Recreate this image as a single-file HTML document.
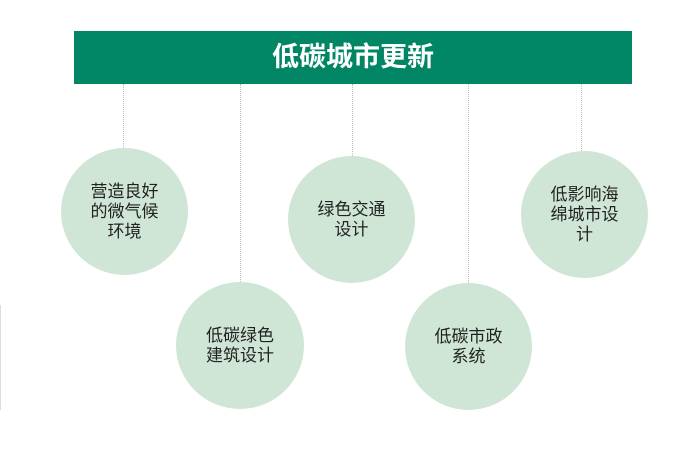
<!DOCTYPE html>
<html><head><meta charset="utf-8"><style>
body{margin:0;width:700px;height:471px;background:#fff;position:relative;overflow:hidden;font-family:"Liberation Sans","Noto Sans CJK SC",sans-serif}
.ban{position:absolute;left:74px;top:31px;width:558px;height:53px;background:#008565;color:#fff;font-size:27px;font-weight:bold;text-align:center;line-height:53px;letter-spacing:0px}
.l{position:absolute;top:84px;width:0;border-left:1px dotted #bbb}
.c{position:absolute;border-radius:50%;background:#cfe6d6;display:flex;align-items:center;justify-content:center;text-align:center;font-size:17px;line-height:20px;color:#222}
</style></head><body>
<div class="ban">低碳城市更新</div>
<div class="l" style="left:123px;height:64px"></div>
<div class="l" style="left:240px;height:198px"></div>
<div class="l" style="left:352px;height:72px"></div>
<div class="l" style="left:468px;height:199px"></div>
<div class="l" style="left:581px;height:67px"></div>
<div style="position:absolute;left:0;top:305px;height:105px;border-left:1px solid #ddd"></div>
<div class="c" style="left:61px;top:148px;width:127px;height:127px">营造良好<br>的微气候<br>环境</div>
<div class="c" style="left:288px;top:156px;width:127px;height:127px">绿色交通<br>设计</div>
<div class="c" style="left:521px;top:151px;width:127px;height:127px">低影响海<br>绵城市设<br>计</div>
<div class="c" style="left:176px;top:282px;width:128px;height:127px">低碳绿色<br>建筑设计</div>
<div class="c" style="left:405px;top:283px;width:127px;height:127px">低碳市政<br>系统</div>
</body></html>
